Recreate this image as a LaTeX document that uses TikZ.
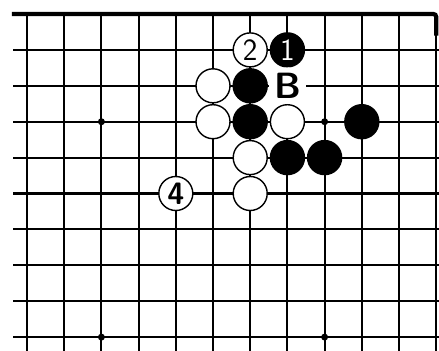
\documentclass[tikz,border=0pt]{standalone}
\begin{document}
\begin{tikzpicture}[x=18.6mm, y=-17.95mm, every node/.style={font=\sffamily\fontsize{44}{46}\selectfont}]
  \tikzset{
    wstone/.style={circle, draw, line width=2pt, fill=white, inner sep=0pt, minimum size=17mm},
    bstone/.style={wstone, fill=black, text=white},
    hoshi/.style={circle, fill=black, inner sep=0pt, minimum size=3.5mm},
    gridline/.style={line width=3pt}
  }
  \useasboundingbox (-0.726,-0.39) rectangle (11.075,9.387);
  % grid
  \foreach \i in {0,...,11} \draw[gridline] (\i,0) -- (\i,9.387);
  \foreach \j in {1,...,9} \draw[gridline] (-0.376,\j) -- (11.075,\j);
  % upper edge
  \draw[line width=6pt, rounded corners=4pt] (-0.41,0) -- (11,0) -- (11,0.6);
  % star points
  \node[hoshi] (s1) at (2,3) {};
  \node[hoshi] (s2) at (8,3) {};
  \node[hoshi] (s3) at (2,9) {};
  \node[hoshi] (s4) at (8,9) {};
  % stones
  \node[wstone] (w2) at (6,1) {2};
  \node[bstone] (b1) at (7,1) {1};
  \node[wstone] (wa) at (5,2) {};
  \node[bstone] (ba) at (6,2) {};
  \node[wstone, draw=none] (b3) at (7,2) {\bfseries\fontsize{52}{52}\selectfont B};
  \node[wstone] (wb) at (5,3) {};
  \node[bstone] (bb) at (6,3) {};
  \node[wstone] (wc) at (7,3) {};
  \node[bstone] (bc) at (9,3) {};
  \node[wstone] (wd) at (6,4) {};
  \node[bstone] (bd) at (7,4) {};
  \node[bstone] (be) at (8,4) {};
  \node[wstone] (w4) at (4,5) {\bfseries 4};
  \node[wstone] (we) at (6,5) {};
\end{tikzpicture}
\end{document}
